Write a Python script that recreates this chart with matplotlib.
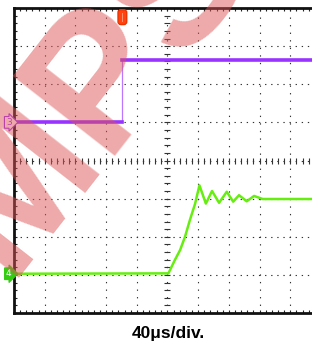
import matplotlib
matplotlib.use('Agg')
import matplotlib.pyplot as plt
from matplotlib.ticker import MultipleLocator

# scope screen: 10 x 8 divisions, values in divisions
purple_t = [0, 3.53, 3.53, 10]
purple_v = [1.0, 1.0, 2.63, 2.63]

green_t = [0, 5.03, 5.24, 5.41, 5.57, 5.73, 5.90, 6.04, 6.25, 6.45, 6.68,
           6.93, 7.14, 7.33, 7.58, 7.82, 8.1, 10]
green_v = [-2.97, -2.96, -2.61, -2.35, -2.0, -1.56, -1.13, -0.65, -1.13, -0.80,
           -1.11, -0.82, -1.08, -0.91, -1.07, -0.93, -1.01, -1.01]

trig_t = 3.53
xlabel = '40μs/div.'

PURPLE = '#9933ff'
GREEN = '#66ee11'

fig = plt.figure(figsize=(3.12, 3.43), dpi=100)
ax = fig.add_axes([14/312, 30/343, 307/312, 305/343])
ax.set_xlim(0, 10)
ax.set_ylim(-4, 4)

for s in ['left', 'top', 'bottom']:
  ax.spines[s].set_linewidth(2)
  ax.spines[s].set_color('#111111')
ax.spines['right'].set_visible(False)

ax.xaxis.set_major_locator(MultipleLocator(1))
ax.yaxis.set_major_locator(MultipleLocator(1))
ax.xaxis.set_minor_locator(MultipleLocator(0.2))
ax.yaxis.set_minor_locator(MultipleLocator(0.2))
ax.tick_params(which='both', direction='in', length=2.5, width=0.8, color='#222222',
               top=True, right=False, labelbottom=False, labelleft=False)

# dotted grid
for gx in range(1, 10):
  ax.axvline(gx, color='#333333', lw=0.8, ls=(0, (1.2, 5.6)), zorder=1)
for gy in range(-3, 4):
  ax.axhline(gy, color='#333333', lw=0.8, ls=(0, (1.2, 4.3)), zorder=1)

# center cross ticks
minors_x = [i * 0.2 for i in range(51)]
minors_y = [-4 + i * 0.2 for i in range(41)]
ax.plot(minors_x, [0] * len(minors_x), ls='none', marker='|', ms=4, mew=0.8,
        color='#333333', zorder=1)
ax.plot([5] * len(minors_y), minors_y, ls='none', marker='_', ms=4, mew=0.8,
        color='#333333', zorder=1)

# traces
ax.plot(purple_t[1:3], purple_v[1:3], color='#bb77ff', lw=0.9, zorder=3)
ax.plot(purple_t[:2], purple_v[:2], color=PURPLE, lw=2.6, zorder=3)
ax.plot(purple_t[2:], purple_v[2:], color=PURPLE, lw=2.6, zorder=3)
ax.plot(green_t, green_v, color=GREEN, lw=1.8, zorder=3)

# channel markers
tr = ax.get_yaxis_transform()
ax.text(-0.008, purple_v[0], '3', transform=tr, ha='right', va='center', fontsize=6.5,
        color=PURPLE, clip_on=False, zorder=5,
        bbox=dict(boxstyle='rarrow,pad=0.15', fc='white', ec=PURPLE, lw=0.8))
ax.text(-0.008, green_v[0], '4', transform=tr, ha='right', va='center', fontsize=6.5,
        color='white', clip_on=False, zorder=5,
        bbox=dict(boxstyle='rarrow,pad=0.15', fc='#33cc11', ec='#33cc11', lw=0.8))
ax.text(trig_t, 3.76, '|', ha='center', va='center', fontsize=6, color='#ffaa88',
        zorder=5, bbox=dict(boxstyle='round,pad=0.35', fc='#ff4411', ec='#ee3300'))

fig.text(0.54, 0.029, xlabel, ha='center', va='center', fontsize=12.5,
         fontweight='bold', family='Liberation Sans')

# watermark
fig.text(0.30, 0.745, 'MPS', ha='center', va='center', rotation=52, rotation_mode='anchor',
         fontsize=135, fontweight='bold', family='Liberation Sans', color='#dd5555',
         alpha=0.5, zorder=10)

fig.savefig('out.png', dpi=100)
